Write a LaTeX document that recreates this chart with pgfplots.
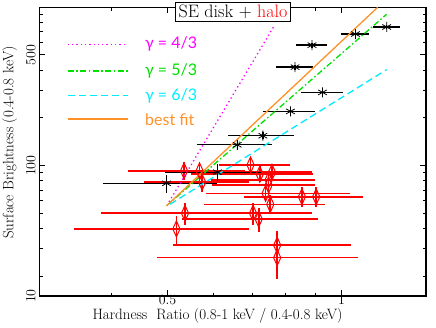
\documentclass[border=0pt]{standalone}
\usepackage{fontspec}
\setmainfont{Latin Modern Roman}
\newfontfamily\legendfont{Lato}
\usepackage{pgfplots}
\pgfplotsset{compat=1.18}
\definecolor{myorange}{RGB}{255,145,40}
\definecolor{mygreen}{RGB}{0,225,0}
\definecolor{mycyan}{RGB}{0,235,255}
\definecolor{mymagenta}{RGB}{255,0,255}
\tikzset{
  magline/.style={draw=mymagenta, line width=1.3pt, dash pattern=on 1.3pt off 3pt},
  grnline/.style={draw=mygreen, line width=1.3pt, dash pattern=on 6pt off 2.5pt on 1.5pt off 2.5pt},
  cyaline/.style={draw=mycyan, line width=1.3pt, dash pattern=on 7pt off 4pt},
  orgline/.style={draw=myorange, line width=1.3pt},
  legtext/.style={anchor=west, inner sep=0pt, font=\legendfont\fontsize{16}{19}\selectfont},
}
\begin{document}
\begin{tikzpicture}
\useasboundingbox (-39.3pt,-31pt) rectangle (396.7pt,296pt);
\begin{axis}[
  at={(0,0)}, anchor=south west,
  scale only axis, width=386.7pt, height=288.7pt,
  xmode=log, ymode=log,
  xmin=0.3, xmax=1.4, ymin=15, ymax=1000,
  xtick={0.5,1}, xticklabels={0.5,1},
  minor xtick={0.4,0.6,0.7,0.8,0.9},
  ytick={15,100,500}, yticklabels={10,100,500},
  minor ytick={20,30,40,50,60,70,80,90,200,300,400,600,700,800,900},
  major tick length=6pt, minor tick length=3.5pt,
  every tick/.style={draw=black, line width=0.9pt},
  axis line style={line width=1.2pt},
  xlabel={Hardness~~Ratio (0.8-1 keV / 0.4-0.8 keV)},
  ylabel={Surface Brightness (0.4-0.8 keV)},
  label style={font=\fontsize{15}{18}\selectfont},
  xlabel style={at={(axis description cs:0.461,0)}, anchor=center, yshift=-19.5pt},
  ylabel style={at={(axis description cs:-0.0765,0.532)}, anchor=center},
  ticklabel style={font=\fontsize{14}{16}\selectfont},
  xticklabel style={yshift=4.5pt},
  yticklabel style={rotate=90, anchor=south},
]
% red points: halo
\addplot[draw=red, only marks, mark=diamond, mark size=8pt, mark options={draw=red, xscale=0.6, line width=1pt, fill=none},
  error bars/.cd, x dir=both, x explicit, y dir=both, y explicit, error mark=none,
  error bar style={draw=red, line width=1.6pt}] coordinates {
  (0.774,26.2) += (0.294,6) -= (0.294,7)
  (0.774,31.4) += (0.264,7) -= (0.264,6)
  (0.534,92.6) += (0.107,12) -= (0.107,11)
  (0.568,92.6) += (0.112,12) -= (0.112,11)
  (0.574,78.5) += (0.119,11) -= (0.119,10)
  (0.696,101)  += (0.120,12) -= (0.083,10)
  (0.722,88.2) += (0.172,11) -= (0.172,10)
  (0.758,90.8) += (0.131,11) -= (0.131,10)
  (0.748,81.2) += (0.153,11) -= (0.153,10)
  (0.748,75.4) += (0.150,10) -= (0.150,9)
  (0.739,66.8) += (0.296,9) -= (0.157,8)
  (0.753,56.9) += (0.183,8) -= (0.175,7)
  (0.854,63.6) += (0.176,10) -= (0.176,9)
  (0.904,63.6) += (0.187,10) -= (0.184,9)
  (0.536,50.0) += (0.153,8) -= (0.153,8)
  (0.703,50.0) += (0.186,8) -= (0.186,8)
  (0.719,45.9) += (0.190,8) -= (0.190,8)
  (0.518,39.8) += (0.174,8) -= (0.174,8)
};
% black points: SE disk
\addplot[draw=black, only marks, mark=asterisk, mark size=5pt, mark options={draw=black, line width=0.8pt},
  error bars/.cd, x dir=both, x explicit, y dir=both, y explicit, error mark=none,
  error bar style={draw=black, line width=1.3pt}] coordinates {
  (0.498,77.3) +- (0.112,10.5)
  (0.610,90.8) +- (0.115,11)
  (0.660,135.3) +- (0.097,10)
  (0.731,154.4) +- (0.096,8)
  (0.816,220) +- (0.085,10)
  (0.927,290) +- (0.077,12)
  (0.831,419) +- (0.062,15)
  (0.889,577) +- (0.056,20)
  (1.057,678) +- (0.059,22)
  (1.197,751) +- (0.063,25)
};
% model lines
\addplot[magline] coordinates {(0.503,59) (0.763,752)};
\addplot[grnline] coordinates {(0.498,55.7) (1.197,904)};
\addplot[cyaline] coordinates {(0.505,57) (1.197,404)};
\addplot[orgline] coordinates {(0.498,55.7) (1.155,1000)};
% legend keys
\addplot[magline, line width=1.6pt] coordinates {(0.336,583.6) (0.427,583.6)};
\addplot[grnline, line width=1.6pt] coordinates {(0.336,397.6) (0.427,397.6)};
\addplot[cyaline, line width=1.6pt] coordinates {(0.336,276.4) (0.427,276.4)};
\addplot[orgline, line width=1.6pt] coordinates {(0.336,196.1) (0.427,196.1)};
\end{axis}
\node[legtext] at (105.7pt,251.7pt) {\addfontfeature{Color=FF00FF}γ = 4/3};
\node[legtext] at (105.7pt,225.3pt) {\addfontfeature{Color=00E100}γ = 5/3};
\node[legtext] at (105.7pt,200.3pt) {\addfontfeature{Color=00EBFF}γ = 6/3};
\node[legtext] at (105.7pt,176.7pt) {\addfontfeature{Color=FF9128}best fit};
\node[draw=black, line width=1.2pt, fill=white, inner sep=3pt, font=\fontsize{18}{20}\selectfont] at (193.7pt,284pt) {SE disk + {\addfontfeature{Color=FF0000}halo}};
\end{tikzpicture}
\end{document}
